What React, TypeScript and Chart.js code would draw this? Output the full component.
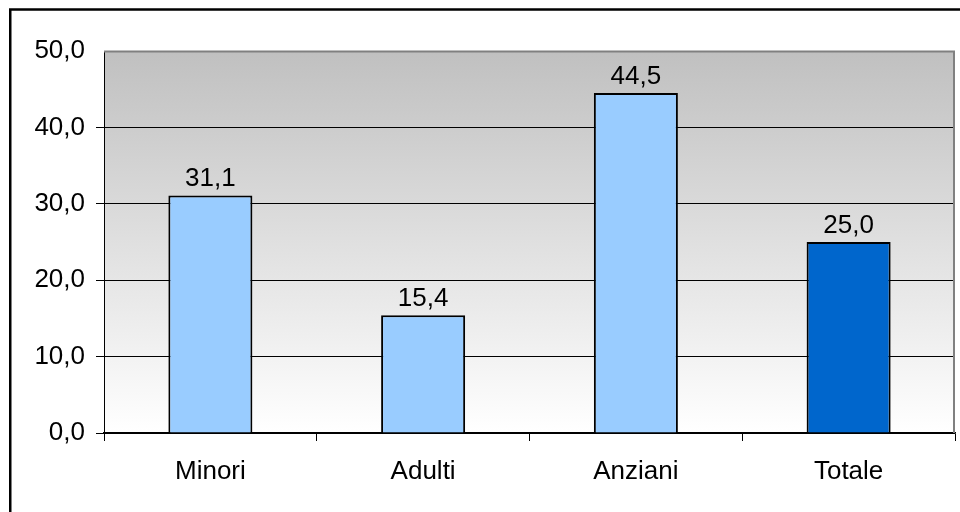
import React, { useEffect, useRef } from "react";
import { Chart, registerables } from "chart.js";

Chart.register(...registerables);

const categories = ["Minori", "Adulti", "Anziani", "Totale"];
const values = [31.1, 15.4, 44.5, 25.0];
const barColors = ["#99CCFF", "#99CCFF", "#99CCFF", "#0066CC"];
const yTicks = [0, 10, 20, 30, 40, 50];

const FONT = "'Liberation Sans', Arial, sans-serif";
const fmt = (v: number) => v.toFixed(1).replace(".", ",");

const bgPlugin = {
  id: "bgPlugin",
  beforeDraw(chart: any) {
    const { ctx, chartArea: a } = chart;
    ctx.save();
    ctx.fillStyle = "#ffffff";
    ctx.fillRect(0, 0, chart.width, chart.height);
    const g = ctx.createLinearGradient(0, a.top, 0, a.bottom);
    g.addColorStop(0, "#c0c0c0");
    g.addColorStop(1, "#ffffff");
    ctx.fillStyle = g;
    ctx.fillRect(a.left, a.top, a.right - a.left, a.bottom - a.top);
    ctx.restore();
  },
  afterDatasetsDraw(chart: any) {
    const { ctx, chartArea: a } = chart;
    ctx.save();
    // plot border (top and right, gray)
    ctx.strokeStyle = "#808080";
    ctx.lineWidth = 2;
    ctx.beginPath();
    ctx.moveTo(a.left, a.top + 0.5);
    ctx.lineTo(a.right - 1, a.top + 0.5);
    ctx.lineTo(a.right - 1, a.bottom);
    ctx.stroke();
    // data labels
    const meta = chart.getDatasetMeta(0);
    ctx.fillStyle = "#000000";
    ctx.font = `26px ${FONT}`;
    ctx.textAlign = "center";
    ctx.textBaseline = "alphabetic";
    meta.data.forEach((bar: any, i: number) => {
      ctx.fillText(fmt(values[i]), bar.x, bar.y - 9);
    });
    ctx.restore();
  },
  afterDraw(chart: any) {
    const { ctx } = chart;
    ctx.save();
    ctx.strokeStyle = "#000000";
    ctx.lineWidth = 2.5;
    ctx.strokeRect(10.25, 9.5, chart.width + 20, chart.height + 20);
    ctx.restore();
  },
};

export default function App() {
  const ref = useRef<HTMLCanvasElement | null>(null);

  useEffect(() => {
    if (!ref.current) return;
    const chart = new Chart(ref.current, {
      type: "bar",
      data: {
        labels: categories,
        datasets: [
          {
            data: values,
            backgroundColor: barColors,
            borderColor: "#000000",
            borderWidth: 2,
            barPercentage: 0.395,
            categoryPercentage: 1,
          },
        ],
      },
      options: {
        responsive: false,
        animation: false,
        devicePixelRatio: 1,
        layout: { padding: { left: 0, top: 51, right: 5, bottom: 0 } },
        plugins: {
          legend: { display: false },
          tooltip: { enabled: false },
        },
        scales: {
          x: {
            afterFit: (s: any) => {
              s.height = 79;
            },
            grid: {
              display: true,
              offset: true,
              drawOnChartArea: false,
              drawTicks: true,
              tickLength: 8,
              color: "#000000",
              lineWidth: 1,
            },
            border: { display: true, color: "#000000", width: 1.5 },
            ticks: {
              color: "#000000",
              font: { family: FONT, size: 26 },
              padding: 15,
            },
          },
          y: {
            min: 0,
            max: 50,
            afterFit: (s: any) => {
              s.width = 104;
            },
            afterBuildTicks: (s: any) => {
              s.ticks = yTicks.map((v) => ({ value: v }));
            },
            grid: {
              color: (c: any) => (c.tick && c.tick.value === 50 ? "rgba(0,0,0,0)" : "#000000"),
              lineWidth: 1,
              drawTicks: true,
              tickLength: 8,
            },
            border: { display: true, color: "#000000", width: 1 },
            ticks: {
              color: "#000000",
              font: { family: FONT, size: 26 },
              padding: 11,
              callback: (v: any) => fmt(Number(v)),
            },
          },
        },
      },
      plugins: [bgPlugin],
    });
    return () => chart.destroy();
  }, []);

  return (
    <div style={{ position: "absolute", left: 0, top: 0, width: 960, height: 512 }}>
      <canvas ref={ref} width={960} height={512} />
    </div>
  );
}
